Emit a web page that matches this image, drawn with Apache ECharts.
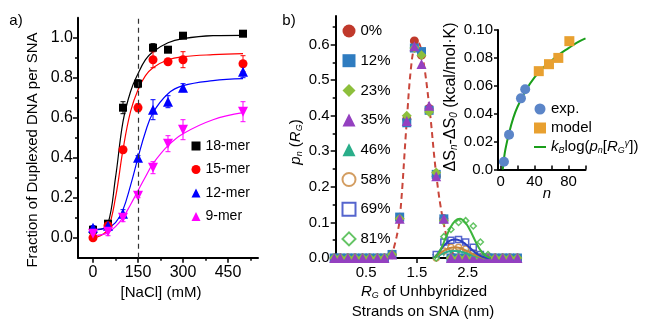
<!DOCTYPE html>
<html><head><meta charset="utf-8">
<script src="https://cdn.jsdelivr.net/npm/echarts@6/dist/echarts.min.js"></script>
<style>html,body{margin:0;padding:0;background:#fff}#c{width:647px;height:320px}</style>
</head><body><div id="c"></div><script>
// ---------- Panel a data ----------
const naclX = [0, 50, 100, 150, 200, 250, 300, 500];
const y18 = [0.04, 0.07, 0.65, 0.77, 0.95, 0.94, 1.01, 1.02];
const y15 = [0.00, 0.06, 0.44, 0.65, 0.89, 0.88, 0.89, 0.87];
const y12 = [0.05, 0.06, 0.12, 0.40, 0.64, 0.68, 0.75, 0.83];
const y9  = [0.02, 0.03, 0.10, 0.21, 0.35, 0.47, 0.54, 0.63];
const e18 = [0.01, 0.01, 0.03, 0.02, 0.02, 0.01, 0.01, 0.01];
const e15 = [0.01, 0.01, 0.01, 0.02, 0.04, 0.01, 0.04, 0.04];
const e12 = [0.01, 0.01, 0.02, 0.01, 0.05, 0.03, 0.02, 0.03];
const e9  = [0.01, 0.02, 0.02, 0.01, 0.03, 0.04, 0.05, 0.05];
const fitX  = [0, 25, 50, 75, 100, 125, 150, 175, 200, 250, 300, 400, 500];
const fit18 = [0.04, 0.042, 0.07, 0.30, 0.58, 0.73, 0.82, 0.89, 0.93, 0.975, 0.995, 1.01, 1.012];
const fit15 = [0.00, 0.01, 0.045, 0.20, 0.44, 0.63, 0.74, 0.81, 0.85, 0.89, 0.905, 0.915, 0.92];
const fit12 = [0.04, 0.043, 0.05, 0.075, 0.14, 0.26, 0.40, 0.53, 0.625, 0.72, 0.76, 0.785, 0.795];
const fit9  = [0.01, 0.014, 0.025, 0.055, 0.10, 0.165, 0.235, 0.305, 0.37, 0.46, 0.52, 0.59, 0.625];
const namesA = ['18-mer', '15-mer', '12-mer', '9-mer'];
const xTicksA = [0, 150, 300, 450];
const yTicksA = [0, 0.2, 0.4, 0.6, 0.8, 1.0];

// ---------- Panel b data ----------
const rgGrid = [-0.13,-0.01,0.14,0.28,0.43,0.57,0.72,0.86,1.01,1.16,1.30,1.45,1.59,1.74,1.88,2.03,2.17,2.32,2.46,2.61,2.75,2.90,3.04,3.19,3.33,3.48];
const p0  = [0,0,0,0,0,0,0,0,0.01,0.11,0.39,0.61,0.57,0.42,0.23,0.11,0,0,0,0,0,0,0,0,0,0];
const p12 = [0,0,0,0,0,0,0,0,0.01,0.115,0.38,0.59,0.58,0.415,0.235,0.11,0,0,0,0,0,0,0,0,0,0];
const p23 = [0,0,0,0,0,0,0,0,0.01,0.11,0.40,0.59,0.57,0.41,0.24,0.105,0,0,0,0,0,0,0,0,0,0];
const p35 = [0,0,0,0,0,0,0,0,0.01,0.11,0.385,0.595,0.545,0.428,0.23,0.11,0,0,0,0,0,0,0,0,0,0];
const p46 = [null,null,null,null,null,null,null,null,null,null,null,null,null,null,0,0.015,0.02,0.02,0.015,0.01,0.005,0,0,0,0,0];
const p58 = [null,null,null,null,null,null,null,null,null,null,null,null,null,null,0,0.02,0.03,0.03,0.025,0.015,0.005,0,0,0,0,0];
const p69 = [null,null,null,null,null,null,null,null,null,null,null,null,null,null,0.01,0.045,0.05,0.052,0.045,0.03,0.01,0,0,0,0,0];
const p81 = [null,null,null,null,null,null,null,null,null,null,null,null,null,null,0,0.06,0.08,0.10,0.105,0.09,0.045,0.01,0,0,0,0];
const dashRg = [0.99, 1.10, 1.165, 1.30, 1.38, 1.46, 1.52, 1.60, 1.74, 1.88, 2.01, 2.15, 2.27];
const dashP  = [0, 0.06, 0.115, 0.385, 0.53, 0.60, 0.605, 0.575, 0.43, 0.235, 0.11, 0.03, 0];
const fitRg2 = [1.85, 1.95, 2.05, 2.15, 2.25, 2.35, 2.45, 2.55, 2.65, 2.75, 2.85, 2.95];
const f46 = [0, 0.008, 0.015, 0.019, 0.02, 0.018, 0.014, 0.009, 0.005, 0.002, 0, 0];
const f58 = [0, 0.012, 0.022, 0.028, 0.03, 0.028, 0.022, 0.015, 0.008, 0.003, 0, 0];
const f69 = [0, 0.02, 0.038, 0.049, 0.052, 0.049, 0.04, 0.028, 0.015, 0.006, 0.001, 0];
const f81 = [0, 0.02, 0.05, 0.083, 0.104, 0.11, 0.10, 0.077, 0.048, 0.022, 0.007, 0];
const namesB = ['0%', '12%', '23%', '35%', '46%', '58%', '69%', '81%'];
const xTicksB = [0.5, 1.5, 2.5];
const yTicksB = [0, 0.1, 0.2, 0.3, 0.4, 0.5, 0.6];

// ---------- Inset data ----------
const expN = [4, 10, 24, 29];
const expS = [0.0055, 0.025, 0.051, 0.0575];
const modelN = [45, 57, 68, 81];
const modelS = [0.0705, 0.0755, 0.080, 0.092];
const fitN = [2.6, 5, 10, 15, 20, 30, 40, 50, 60, 70, 80, 90, 100];
const fitS = [0, 0.012, 0.026, 0.037, 0.045, 0.057, 0.066, 0.073, 0.078, 0.083, 0.087, 0.091, 0.094];
const xTicksI = [0, 40, 80];
const yTicksI = [0, 0.02, 0.04, 0.06, 0.08, 0.10];

const FF = 'Liberation Sans, Arial, Helvetica, sans-serif';
const zip = (xs, ys) => xs.map((x, i) => [x, ys[i]]);

function errSeries(ys, es, c) {
  return {
    type: 'custom', xAxisIndex: 0, yAxisIndex: 0, silent: true, z: 3,
    data: naclX.map((x, i) => [x, ys[i], es[i]]),
    encode: { x: 0, y: 1 },
    renderItem: (params, api) => {
      const x = api.value(0), y = api.value(1), e = api.value(2);
      const t = api.coord([x, y + e]), b = api.coord([x, y - e]);
      const w = 2.5;
      const st = { stroke: c, lineWidth: 1 };
      return { type: 'group', children: [
        { type: 'line', shape: { x1: t[0], y1: t[1], x2: b[0], y2: b[1] }, style: st },
        { type: 'line', shape: { x1: t[0] - w, y1: t[1], x2: t[0] + w, y2: t[1] }, style: st },
        { type: 'line', shape: { x1: b[0] - w, y1: b[1], x2: b[0] + w, y2: b[1] }, style: st }
      ]};
    }
  };
}
function fitLine(xs, ys, c, xi, yi, extra) {
  return Object.assign({
    type: 'line', xAxisIndex: xi, yAxisIndex: yi, data: zip(xs, ys),
    smooth: 0.4, showSymbol: false, symbol: 'none', silent: true,
    lineStyle: { color: c, width: 1.2 }, z: 2
  }, extra || {});
}
function scat(name, xs, ys, c, sym, size, xi, yi, extra) {
  return Object.assign({
    type: 'scatter', name: name, xAxisIndex: xi, yAxisIndex: yi,
    data: zip(xs, ys), symbol: sym, symbolSize: size, clip: false,
    itemStyle: { color: c, opacity: 1 }, z: 4
  }, extra || {});
}
const axLine = { show: true, onZero: false, lineStyle: { color: '#000', width: 2 } };
const tickSt = { color: '#000', width: 1.5 };

const colA = ['#000000', '#ff0000', '#0000ff', '#ff00ff'];
const colB = ['#c0392b', '#2f7cc0', '#8dbf3c', '#9440c0', '#2aae8a', '#c8843a', '#2b3fc0', '#3db53d'];

const option = {
  animation: false,
  backgroundColor: '#fff',
  textStyle: { fontFamily: FF },
  grid: [
    { left: 78, top: 17.7, width: 180, height: 240, outerBoundsMode: 'none' },
    { left: 335.7, top: 16, width: 185.3, height: 242, outerBoundsMode: 'none' },
    { left: 498, top: 30, width: 87.5, height: 139.5, outerBoundsMode: 'none' }
  ],
  xAxis: [
    { gridIndex: 0, type: 'value', min: -50, max: 550, axisLine: axLine,
      axisTick: { customValues: xTicksA, length: 5, lineStyle: tickSt },
      axisLabel: { customValues: xTicksA, fontSize: 16, color: '#000', margin: 7, fontFamily: FF },
      splitLine: { show: false } },
    { gridIndex: 0, type: 'value', min: -50, max: 550, position: 'bottom',
      axisLine: { show: false, onZero: false },
      axisTick: { customValues: [75, 225, 375, 525], length: 3, lineStyle: tickSt },
      axisLabel: { show: false }, splitLine: { show: false } },
    { gridIndex: 1, type: 'value', min: -0.1, max: 3.55, axisLine: axLine,
      axisTick: { customValues: xTicksB, length: 5, lineStyle: tickSt },
      axisLabel: { customValues: xTicksB, fontSize: 15, color: '#000', margin: 7, fontFamily: FF,
        formatter: v => v.toFixed(1) },
      splitLine: { show: false } },
    { gridIndex: 2, type: 'value', min: -3, max: 100, axisLine: axLine,
      axisTick: { customValues: [0, 20, 40, 60, 80, 100], inside: true, length: 4, lineStyle: tickSt },
      axisLabel: { customValues: xTicksI, fontSize: 15, color: '#000', margin: 5, fontFamily: FF },
      splitLine: { show: false } }
  ],
  yAxis: [
    { gridIndex: 0, type: 'value', min: -0.1, max: 1.1, axisLine: axLine,
      axisTick: { customValues: yTicksA, length: 5, lineStyle: tickSt },
      axisLabel: { customValues: yTicksA, fontSize: 16, color: '#000', margin: 5, fontFamily: FF,
        formatter: v => v.toFixed(1) },
      splitLine: { show: false } },
    { gridIndex: 0, type: 'value', min: -0.1, max: 1.1, position: 'left',
      axisLine: { show: false, onZero: false },
      axisTick: { customValues: [0.1, 0.3, 0.5, 0.7, 0.9], length: 3, lineStyle: tickSt },
      axisLabel: { show: false }, splitLine: { show: false } },
    { gridIndex: 1, type: 'value', min: 0, max: 0.68, axisLine: axLine,
      axisTick: { customValues: yTicksB, length: 5, lineStyle: tickSt },
      axisLabel: { customValues: yTicksB, fontSize: 15, color: '#000', margin: 6, fontFamily: FF,
        formatter: v => v.toFixed(1) },
      splitLine: { show: false } },
    { gridIndex: 1, type: 'value', min: 0, max: 0.68, position: 'left',
      axisLine: { show: false, onZero: false },
      axisTick: { customValues: [0.05, 0.15, 0.25, 0.35, 0.45, 0.55, 0.65], length: 3, lineStyle: tickSt },
      axisLabel: { show: false }, splitLine: { show: false } },
    { gridIndex: 2, type: 'value', min: 0, max: 0.1, axisLine: axLine,
      axisTick: { customValues: yTicksI, length: 4, lineStyle: tickSt },
      axisLabel: { customValues: yTicksI, fontSize: 15, color: '#000', margin: 5, fontFamily: FF,
        formatter: v => v === 0 ? '0.0' : v.toFixed(2) },
      splitLine: { show: false } }
  ],
  legend: [
    { data: namesA, orient: 'vertical', left: 191.5, top: 138, padding: 0, itemWidth: 9, itemHeight: 9,
      itemGap: 7.5, selectedMode: false,
      textStyle: { fontSize: 14, lineHeight: 16, color: '#000', fontFamily: FF } },
    { data: namesB, orient: 'vertical', left: 341.5, top: 22.5, padding: 0, itemWidth: 13, itemHeight: 13,
      itemGap: 12.7, selectedMode: false,
      textStyle: { fontSize: 15, lineHeight: 17, color: '#000', fontFamily: FF } },
    { data: ['exp.', 'model', { name: 'kfit', itemStyle: { color: 'rgba(0,0,0,0)', borderWidth: 0 } }],
      orient: 'vertical', left: 533, top: 101, padding: 0, itemWidth: 12, itemHeight: 11,
      itemGap: 3, selectedMode: false,
      formatter: n => n === 'kfit' ? '{i|k}{s|B}log({i|p}{s|n}[{i|R}{s|G}{u|γ}])' : n,
      textStyle: { fontSize: 15, lineHeight: 16, color: '#000', fontFamily: FF,
        rich: {
          i: { fontStyle: 'italic', fontSize: 15, fontFamily: FF },
          s: { fontStyle: 'italic', fontSize: 9, verticalAlign: 'bottom', lineHeight: 10, fontFamily: FF },
          u: { fontStyle: 'italic', fontSize: 9, verticalAlign: 'top', lineHeight: 10, fontFamily: FF }
        } } }
  ],
  series: [
    // panel a fits
    fitLine(fitX, fit18, colA[0], 0, 0, { markLine: { silent: true, symbol: ['none', 'none'],
      label: { show: false }, lineStyle: { type: [5, 4], color: '#333', width: 1.2 }, data: [{ xAxis: 150 }] } }),
    fitLine(fitX, fit15, colA[1], 0, 0),
    fitLine(fitX, fit12, colA[2], 0, 0),
    fitLine(fitX, fit9, colA[3], 0, 0),
    errSeries(y18, e18, colA[0]), errSeries(y15, e15, colA[1]),
    errSeries(y12, e12, colA[2]), errSeries(y9, e9, colA[3]),
    scat('18-mer', naclX, y18, colA[0], 'rect', 8, 0, 0),
    scat('15-mer', naclX, y15, colA[1], 'circle', 9, 0, 0),
    scat('12-mer', naclX, y12, colA[2], 'triangle', 10, 0, 0),
    scat('9-mer', naclX, y9, colA[3], 'triangle', 10, 0, 0, { symbolRotate: 180 }),
    // panel b
    fitLine(dashRg, dashP, '#c9463b', 2, 2, { lineStyle: { color: '#c9463b', width: 2, type: [6, 4] }, z: 1 }),
    scat('46%', rgGrid, p46, colB[4], 'triangle', 8, 2, 2, { symbolRotate: 180 }),
    scat('58%', rgGrid, p58, colB[5], 'circle', 6, 2, 2, { itemStyle: { color: '#fff', borderColor: colB[5], borderWidth: 1.5 } }),
    scat('69%', rgGrid, p69, colB[6], 'rect', 6, 2, 2, { itemStyle: { color: '#fff', borderColor: colB[6], borderWidth: 1.5 } }),
    scat('81%', rgGrid, p81, colB[7], 'diamond', 6, 2, 2, { itemStyle: { color: '#fff', borderColor: colB[7], borderWidth: 1.5 } }),
    scat('0%', rgGrid, p0, colB[0], 'circle', 9, 2, 2),
    scat('12%', rgGrid, p12, colB[1], 'rect', 9, 2, 2),
    scat('23%', rgGrid, p23, colB[2], 'diamond', 10, 2, 2),
    scat('35%', rgGrid, p35, colB[3], 'triangle', 10, 2, 2),
    fitLine(fitRg2, f46, colB[4], 2, 2, { lineStyle: { color: colB[4], width: 2 }, z: 5 }),
    fitLine(fitRg2, f58, colB[5], 2, 2, { lineStyle: { color: colB[5], width: 2 }, z: 5 }),
    fitLine(fitRg2, f69, colB[6], 2, 2, { lineStyle: { color: colB[6], width: 2 }, z: 5 }),
    fitLine(fitRg2, f81, colB[7], 2, 2, { lineStyle: { color: colB[7], width: 2 }, z: 5 }),
    // inset
    fitLine(fitN, fitS, '#1a9e1a', 3, 4, { name: 'kfit', lineStyle: { color: '#1a9e1a', width: 2 }, itemStyle: { color: '#1a9e1a' }, z: 3 }),
    scat('exp.', expN, expS, '#5b85c8', 'circle', 10, 3, 4),
    scat('model', modelN, modelS, '#e8a030', 'rect', 10, 3, 4)
  ],
  graphic: [
    { type: 'text', x: 16, y: 21, style: { text: 'a)', font: '15px ' + FF, fill: '#000', align: 'center', verticalAlign: 'middle' } },
    { type: 'text', x: 289, y: 21, style: { text: 'b)', font: '15px ' + FF, fill: '#000', align: 'center', verticalAlign: 'middle' } },
    { type: 'text', x: 33, y: 150, rotation: Math.PI / 2,
      style: { text: 'Fraction of Duplexed DNA per SNA', font: '15px ' + FF, fill: '#000', align: 'center', verticalAlign: 'middle' } },
    { type: 'text', x: 161, y: 293,
      style: { text: '[NaCl] (mM)', font: '15px ' + FF, fill: '#000', align: 'center', verticalAlign: 'middle' } },
    { type: 'text', x: 296, y: 142, rotation: Math.PI / 2,
      style: { text: '{i|p}{s|n} ({i|R}{s|G})', fill: '#000', align: 'center', verticalAlign: 'middle',
        fontSize: 15, fontFamily: FF, lineHeight: 16,
        rich: { i: { fontStyle: 'italic', fontSize: 15, fontFamily: FF },
                s: { fontStyle: 'italic', fontSize: 9, verticalAlign: 'bottom', lineHeight: 10, fontFamily: FF } } } },
    { type: 'text', x: 424, y: 292,
      style: { text: '{i|R}{s|G} of Unhbyridized', fill: '#000', align: 'center', verticalAlign: 'middle',
        fontSize: 15, fontFamily: FF, lineHeight: 16,
        rich: { i: { fontStyle: 'italic', fontSize: 15, fontFamily: FF },
                s: { fontStyle: 'italic', fontSize: 9, verticalAlign: 'bottom', lineHeight: 10, fontFamily: FF } } } },
    { type: 'text', x: 423, y: 312,
      style: { text: 'Strands on SNA (nm)', font: '15px ' + FF, fill: '#000', align: 'center', verticalAlign: 'middle' } },
    { type: 'text', x: 451, y: 97, rotation: Math.PI / 2,
      style: { text: 'ΔS{s|n}-ΔS{s|0} (kcal/mol·K)', fill: '#000', align: 'center', verticalAlign: 'middle',
        fontSize: 16, fontFamily: FF, lineHeight: 17,
        rich: { s: { fontStyle: 'italic', fontSize: 10, verticalAlign: 'bottom', lineHeight: 11, fontFamily: FF } } } },
    { type: 'text', x: 547, y: 194,
      style: { text: 'n', font: 'italic 15px ' + FF, fill: '#000', align: 'center', verticalAlign: 'middle' } }
  ]
};
const chart = echarts.init(document.getElementById('c'), null, { renderer: 'canvas' });
chart.setOption(option);
</script></body></html>
